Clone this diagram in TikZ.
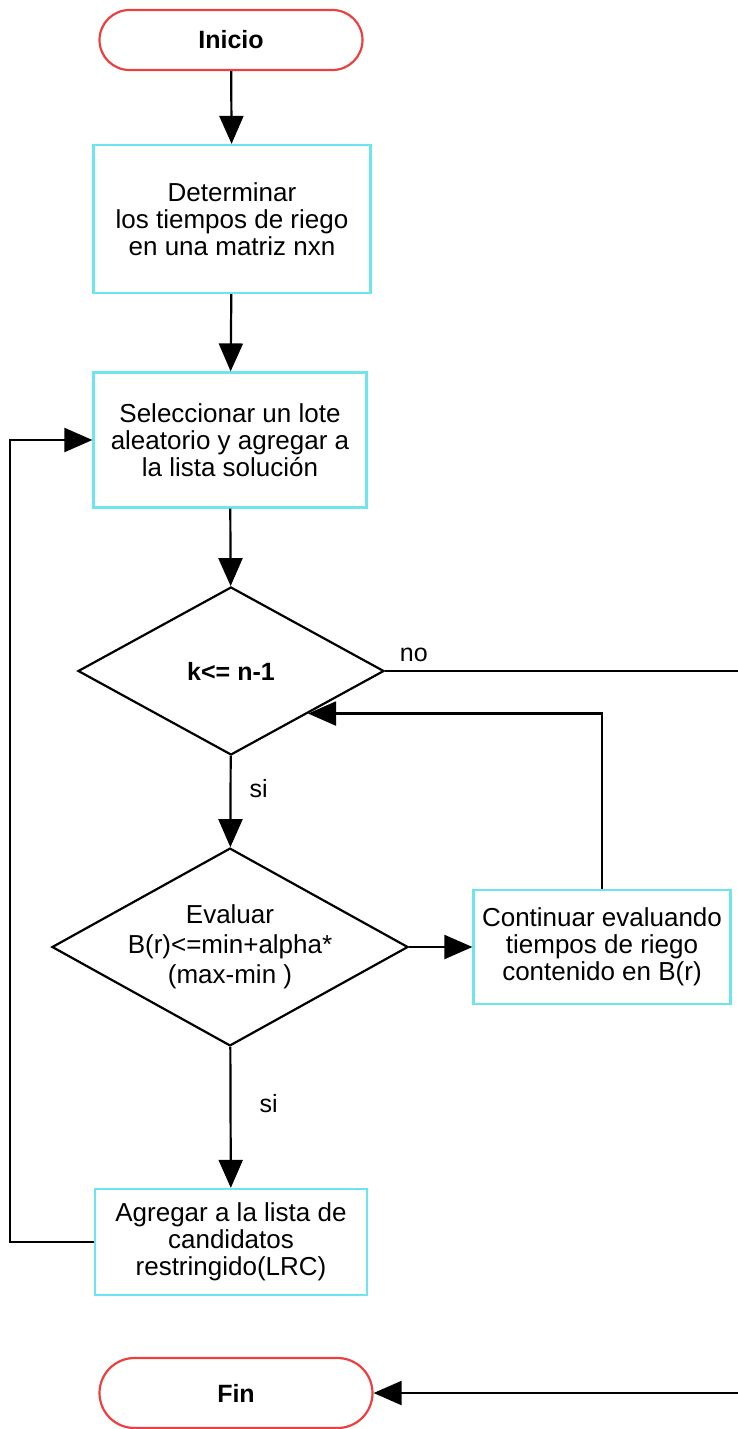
\documentclass[tikz,border=0pt]{standalone}
\usepackage{fontspec}
\setmainfont{Liberation Sans}
\usetikzlibrary{shapes.geometric,shapes.misc,arrows.meta}
\definecolor{termred}{RGB}{236,64,64}
\definecolor{boxcyan}{RGB}{110,228,238}
\begin{document}
\begin{tikzpicture}[x=0.5pt,y=-0.5pt,
  txt/.style={font=\fontsize{13}{13.5}\selectfont, align=center, inner sep=0pt},
  term/.style={txt, font=\fontsize{12.5}{13.5}\selectfont\bfseries, draw=termred, line width=1.1pt, rounded rectangle},
  procbox/.style={txt, draw=boxcyan, line width=1.1pt, rectangle},
  decision/.style={txt, draw=black, line width=1.1pt, diamond, aspect=1.8},
  conn/.style={draw=black, line width=1.1pt},
  arr/.style={conn, -{Triangle[length=14pt,width=12pt]}},
  lbl/.style={font=\fontsize{12.5}{13.5}\selectfont, inner sep=1pt}
]
\useasboundingbox (0,0) rectangle (738,1429);

\node[term, minimum width=131.5pt, minimum height=30pt] (ini) at (231,40) {Inicio};
\node[procbox, minimum width=138.5pt, minimum height=74pt] (b1) at (232,219) {Determinar\\los tiempos de riego\\en una matriz nxn};
\node[procbox, minimum width=136.5pt, minimum height=67.5pt] (b2) at (230,440) {Seleccionar un lote\\aleatorio y agregar a\\la lista solución};
\node[decision, minimum width=153pt, minimum height=84pt, font=\fontsize{12.5}{13.5}\selectfont\bfseries] (d1) at (231,671) {k<= n-1};
\node[decision, minimum width=175.5pt, minimum height=96pt, font=\fontsize{13}{15}\selectfont] (d2) at (230,947) {Evaluar\\B(r)<=min+alpha*\\(max-min )};
\node[procbox, minimum width=128.5pt, minimum height=57pt] (b3) at (602,947) {Continuar evaluando\\tiempos de riego\\contenido en B(r)};
\node[procbox, minimum width=136pt, minimum height=53pt] (b4) at (231,1242) {Agregar a la lista de\\candidatos\\restringido(LRC)};
\node[term, minimum width=136.5pt, minimum height=35pt] (fin) at (236,1393) {Fin};

\coordinate (rt) at (745,671);
\coordinate (lft) at (10,1242);

\draw[arr] (ini) -- (b1);
\draw[arr] (b1) -- (b2);
\draw[arr] (b2) -- (d1);
\draw[arr] (d1) -- node[lbl, pos=0.36, right=8pt] {si} (d2);
\draw[arr] (d2) -- node[lbl, pos=0.4, right=13pt] {si} (b4);
\draw[arr] (d2) -- (b3);
\draw[arr] (b3.north) |- (d1.south east);
\draw[arr] (b4.west) -- (lft) |- (b2.west);
\draw[arr] (d1.east) -- node[lbl, pos=0.08, above=3pt] {no} (rt) |- (fin.east);
\end{tikzpicture}
\end{document}
